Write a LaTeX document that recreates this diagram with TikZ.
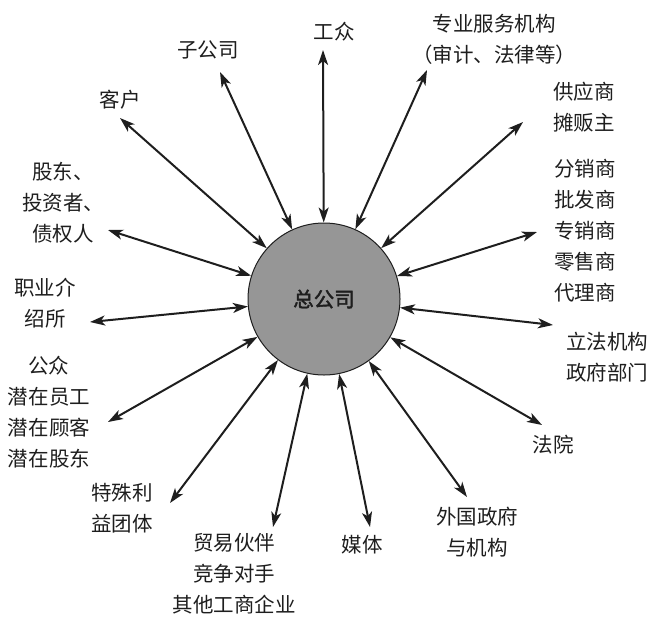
\documentclass[tikz,border=0pt]{standalone}
\usepackage{fontspec}
\setmainfont{Noto Sans CJK SC}
\newfontfamily\hqfont{Noto Sans CJK SC}[FakeBold=2]
\usetikzlibrary{arrows.meta}
\definecolor{hqgray}{RGB}{150,150,150}
\definecolor{ink}{RGB}{30,30,30}
\tikzset{
  lbl/.style={align=center, text=ink, font=\fontsize{20.5}{31}\selectfont, inner sep=0pt},
  biarrow/.style={line width=2pt, draw=ink, {Stealth[length=15pt,width=10pt,inset=4pt]}-{Stealth[length=15pt,width=10pt,inset=4pt]}},
  hqnode/.style={circle, draw=ink, line width=1pt, fill=hqgray, minimum size=152pt, inner sep=0pt, text=ink, font=\hqfont\fontsize{20.5}{24}\selectfont}
}
\begin{document}
\begin{tikzpicture}[x=1pt,y=-1pt]
\useasboundingbox (0,0) rectangle (652,616);
\node[hqnode] (hq) at (324,299) {总公司};

% labels
\node[lbl] (gz) at (334,32) {工众};
\node[lbl] (zy) at (494,39) {专业服务机构\\（审计、法律等）};
\node[lbl] (zg) at (208,50) {子公司};
\node[lbl] (kh) at (120,100) {客户};
\node[lbl] (gd) at (63,203) {股东、\\投资者、\\债权人};
\node[lbl] (zj) at (45,303) {职业介\\绍所};
\node[lbl] (gzq) at (49,412) {公众\\潜在员工\\潜在顾客\\潜在股东};
\node[lbl] (ts) at (122,508) {特殊利\\益团体};
\node[lbl] (my) at (234,574) {贸易伙伴\\竞争对手\\其他工商企业};
\node[lbl] (mt) at (362,545) {媒体};
\node[lbl] (wg) at (477,532) {外国政府\\与机构};
\node[lbl] (fy) at (553,445) {法院};
\node[lbl] (lf) at (607,357) {立法机构\\政府部门};
\node[lbl] (fx) at (585,231) {分销商\\批发商\\专销商\\零售商\\代理商};
\node[lbl] (gy) at (584,107) {供应商\\摊贩主};

% outer arrow ends
\coordinate (e1) at (323,50);
\coordinate (e2) at (427,70);
\coordinate (e3) at (220,72);
\coordinate (e4) at (120,118);
\coordinate (e5) at (108,230);
\coordinate (e6) at (90,322);
\coordinate (e7) at (108,422);
\coordinate (e8) at (170,503);
\coordinate (e9) at (273,527);
\coordinate (e10) at (370,527);
\coordinate (e11) at (467,497);
\coordinate (e12) at (542,425);
\coordinate (e13) at (553,325);
\coordinate (e14) at (537,232);
\coordinate (e15) at (523,122);

\foreach \i in {1,...,15} {
  \draw[biarrow] (e\i) -- (hq);
}
\end{tikzpicture}
\end{document}
